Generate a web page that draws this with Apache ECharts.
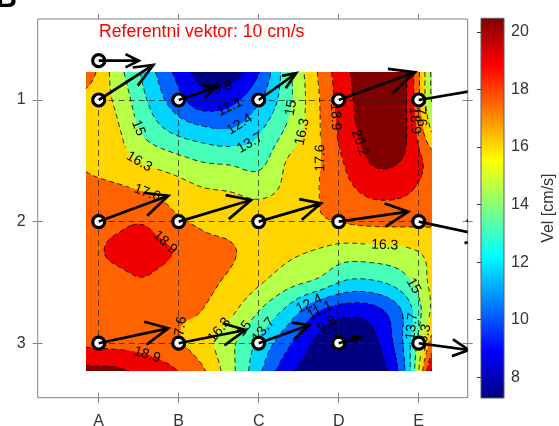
<!DOCTYPE html>
<html><head><meta charset="utf-8">
<script src="https://cdn.jsdelivr.net/npm/echarts@6/dist/echarts.min.js"></script>
<style>html,body{margin:0;padding:0;background:#fff}#c{width:559px;height:426px}</style>
</head><body><div id="c"></div>
<script>
// ---------- data ----------
const colLetters = ['A','B','C','D','E'];
const colPos = [1, 2, 3, 4, 5];
const rowPos = [1, 2, 3];
// velocity vectors (cm/s): east component, north (up on screen) component
const uEast = [
  [13.65, 9.4, 9.35, 19.1, 19.5],
  [17.4, 18.1, 15.6, 17.4, 17.5],
  [17.4, 16.7, 12.7, 5.3, 12.6]
];
const vNorth = [
  [5.76, 2.1, 4.4, 4.55, 2.15],
  [4.25, 3.55, 3.0, 1.63, -2.45],
  [2.45, 2.17, 3.0, 0.97, -1.12]
];
const refPoint = [1, 0.677];
const refSpeed = 10;
const refText = 'Referentni vektor: 10 cm/s';

// speed field (cm/s), nodes fieldX x fieldY
const fieldX = [0.84, 1.20, 1.56, 1.92, 2.28, 2.64, 3.00, 3.36, 3.72, 4.08, 4.44, 4.80, 5.16];
const fieldY = [0.77, 1.016, 1.262, 1.508, 1.754, 2.0, 2.246, 2.492, 2.738, 2.984, 3.23];
const speedField = [
  [18.6, 15.8, 13.4, 11.1, 9.3, 9.1, 11.0, 14.5, 17.5, 19.9, 21.0, 20.8, 14.8],
  [17.0, 16.2, 14.0, 12.0, 10.5, 10.8, 12.3, 14.6, 17.3, 19.7, 21.0, 20.7, 15.0],
  [16.9, 16.6, 14.8, 13.6, 12.9, 12.6, 13.6, 15.3, 17.3, 19.5, 20.9, 20.6, 16.3],
  [17.4, 16.9, 16.2, 15.6, 15.0, 14.8, 14.6, 16.4, 17.4, 19.0, 20.35, 20.1, 18.3],
  [18.0, 17.9, 17.6, 17.1, 16.5, 16.3, 16.0, 16.6, 17.5, 18.5, 19.2, 19.1, 18.2],
  [18.3, 18.6, 18.8, 17.9, 17.4, 17.2, 17.0, 17.1, 17.4, 17.7, 17.9, 17.9, 17.8],
  [18.5, 19.1, 19.4, 18.9, 18.0, 17.7, 17.2, 16.6, 16.2, 15.7, 15.8, 16.0, 16.6],
  [18.3, 18.5, 18.8, 18.2, 17.9, 17.4, 16.5, 15.5, 14.8, 13.6, 13.6, 14.5, 16.6],
  [18.3, 18.3, 18.2, 17.8, 17.6, 16.6, 15.0, 13.3, 11.2, 10.3, 10.6, 12.5, 16.5],
  [18.6, 18.5, 18.4, 17.9, 16.9, 15.4, 13.5, 11.5, 9.6, 8.6, 9.5, 12.4, 18.0],
  [20.6, 20.5, 19.8, 19.1, 17.9, 15.5, 12.7, 10.2, 9.0, 8.4, 8.9, 11.9, 20.4]
];
const levels = [9.8, 11.1, 12.4, 13.7, 15, 16.3, 17.6, 18.9, 20.2];

// contour labels: level and approximate place
const labelLevel = [15, 16.3, 17.6, 9.8, 11.1, 12.4, 13.7, 15, 16.3, 17.6, 18.9, 20.2, 18.9, 17.6, 18.9, 16.3, 18.9, 16.3, 15, 13.7, 12.4, 11.1, 9.8, 15, 13.7, 16.3, 17.6];
const labelX = [1.479, 1.516, 1.616, 2.541, 2.641, 2.779, 2.916, 3.516, 3.541, 3.741, 4.004, 4.267, 5.016, 5.10, 1.79, 4.579, 1.554, 2.491, 2.766, 3.04, 3.616, 3.779, 3.904, 4.941, 4.954, 5.116, 1.994];
const labelY = [1.247, 1.502, 1.74, 0.901, 1.066, 1.222, 1.370, 1.082, 1.263, 1.477, 1.123, 1.37, 1.181, 1.10, 2.19, 2.209, 3.155, 2.875, 2.85, 2.875, 2.645, 2.76, 2.90, 2.538, 2.859, 2.957, 2.891];

// colorbar
const cbMin = 7.28, cbMax = 20.47;
const cbTicks = [8, 10, 12, 14, 16, 18, 20];
const cbName = 'Vel [cm/s]';

// axis ranges
const xMin = 0.2375, xMax = 5.6125, yMin = 0.334, yMax = 3.448;
const arrowScale = 0.05;

// ---------- helpers ----------
function clamp01(v){ return v < 0 ? 0 : v > 1 ? 1 : v; }
function jet(t){
  return [clamp01(1.5 - Math.abs(4*t - 3))*255, clamp01(1.5 - Math.abs(4*t - 2))*255, clamp01(1.5 - Math.abs(4*t - 1))*255].map(Math.round);
}
const bandColors = [];
for (let i = 0; i <= levels.length; i++) bandColors.push(jet(i / levels.length));

const NX = fieldX.length, NY = fieldY.length;
function nodeVal(i, j){
  if (j < 0) return 2*nodeVal(i, 0) - nodeVal(i, 1);
  if (j > NY-1) return 2*nodeVal(i, NY-1) - nodeVal(i, NY-2);
  if (i < 0) return 2*nodeVal(0, j) - nodeVal(1, j);
  if (i > NX-1) return 2*nodeVal(NX-1, j) - nodeVal(NX-2, j);
  return speedField[j][i];
}
function cr(p0, p1, p2, p3, t){
  return p1 + 0.5*t*(p2 - p0 + t*(2*p0 - 5*p1 + 4*p2 - p3 + t*(3*(p1 - p2) + p3 - p0)));
}
function sampleField(gx, gy){
  let i = Math.floor(gx), j = Math.floor(gy);
  if (i > NX-2) i = NX-2; if (i < 0) i = 0;
  if (j > NY-2) j = NY-2; if (j < 0) j = 0;
  const tx = gx - i, ty = gy - j;
  const rv = r => cr(nodeVal(i-1, r), nodeVal(i, r), nodeVal(i+1, r), nodeVal(i+2, r), tx);
  return cr(rv(j-1), rv(j), rv(j+1), rv(j+2), ty);
}
// fine grid for contour lines
const S = 8;
const FW = (NX-1)*S + 1, FH = (NY-1)*S + 1;
const fine = new Float64Array(FW*FH);
for (let j = 0; j < FH; j++) for (let i = 0; i < FW; i++) fine[j*FW + i] = sampleField(i/S, j/S);
function fineToData(gi, gj){
  const fx = gi / S, fy = gj / S;
  const ix = Math.min(Math.floor(fx), NX-2), iy = Math.min(Math.floor(fy), NY-2);
  return [fieldX[ix] + (fx - ix)*(fieldX[ix+1] - fieldX[ix]), fieldY[iy] + (fy - iy)*(fieldY[iy+1] - fieldY[iy])];
}
function contourLevel(L){
  const F = (i, j) => fine[j*FW + i];
  const VOFF = FW*FH;
  const pts = new Map();
  function ep(key){
    if (pts.has(key)) return pts.get(key);
    let p;
    if (key < VOFF){ const j = Math.floor(key / FW), i = key % FW; const a = F(i, j), b = F(i+1, j); p = fineToData(i + (L - a)/(b - a), j); }
    else { const k = key - VOFF; const j = Math.floor(k / FW), i = k % FW; const a = F(i, j), b = F(i, j+1); p = fineToData(i, j + (L - a)/(b - a)); }
    pts.set(key, p); return p;
  }
  const segs = [];
  for (let j = 0; j < FH-1; j++) for (let i = 0; i < FW-1; i++){
    const a = F(i, j), b = F(i+1, j), c = F(i+1, j+1), d = F(i, j+1);
    const code = (a >= L ? 8 : 0) | (b >= L ? 4 : 0) | (c >= L ? 2 : 0) | (d >= L ? 1 : 0);
    if (code === 0 || code === 15) continue;
    const T = j*FW + i, B = (j+1)*FW + i, Lf = VOFF + j*FW + i, R = VOFF + j*FW + i + 1;
    const center = (a + b + c + d)/4 >= L;
    let pairs;
    switch (code){
      case 1: pairs = [[Lf, B]]; break;
      case 2: pairs = [[B, R]]; break;
      case 3: pairs = [[Lf, R]]; break;
      case 4: pairs = [[T, R]]; break;
      case 5: pairs = center ? [[T, Lf], [B, R]] : [[T, R], [Lf, B]]; break;
      case 6: pairs = [[T, B]]; break;
      case 7: pairs = [[T, Lf]]; break;
      case 8: pairs = [[T, Lf]]; break;
      case 9: pairs = [[T, B]]; break;
      case 10: pairs = center ? [[T, R], [Lf, B]] : [[T, Lf], [B, R]]; break;
      case 11: pairs = [[T, R]]; break;
      case 12: pairs = [[Lf, R]]; break;
      case 13: pairs = [[B, R]]; break;
      case 14: pairs = [[Lf, B]]; break;
    }
    pairs.forEach(p => segs.push(p));
  }
  const map = new Map();
  segs.forEach((s, idx) => s.forEach(k => { if (!map.has(k)) map.set(k, []); map.get(k).push(idx); }));
  const used = new Uint8Array(segs.length);
  const lines = [];
  for (let s0 = 0; s0 < segs.length; s0++){
    if (used[s0]) continue;
    used[s0] = 1;
    const keys = [segs[s0][0], segs[s0][1]];
    let key = segs[s0][1];
    while (true){
      const cand = (map.get(key) || []).find(x => !used[x]);
      if (cand === undefined) break;
      used[cand] = 1;
      const s = segs[cand];
      key = s[0] === key ? s[1] : s[0];
      keys.push(key);
    }
    key = segs[s0][0];
    while (true){
      const cand = (map.get(key) || []).find(x => !used[x]);
      if (cand === undefined) break;
      used[cand] = 1;
      const s = segs[cand];
      key = s[0] === key ? s[1] : s[0];
      keys.unshift(key);
    }
    lines.push(keys.map(ep));
  }
  return lines;
}
const levelLines = levels.map(contourLevel);

const FONT = '"Liberation Sans", Arial, Helvetica, sans-serif';

function renderContour(params, api){
  const p0 = api.coord([fieldX[0], fieldY[0]]);
  const p1 = api.coord([fieldX[NX-1], fieldY[NY-1]]);
  const x0 = Math.min(p0[0], p1[0]), y0 = Math.min(p0[1], p1[1]);
  const w = Math.round(Math.abs(p1[0] - p0[0])), h = Math.round(Math.abs(p1[1] - p0[1]));
  const flipX = p1[0] < p0[0], flipY = p1[1] < p0[1];
  const canvas = document.createElement('canvas');
  canvas.width = w; canvas.height = h;
  const ctx = canvas.getContext('2d');
  const img = ctx.createImageData(w, h);
  for (let py = 0; py < h; py++){
    let gy = (py + 0.5)/h*(NY-1); if (flipY) gy = (NY-1) - gy;
    for (let px = 0; px < w; px++){
      let gx = (px + 0.5)/w*(NX-1); if (flipX) gx = (NX-1) - gx;
      const v = sampleField(gx, gy);
      let k = 0; while (k < levels.length && v >= levels[k]) k++;
      const c = bandColors[k], o = (py*w + px)*4;
      img.data[o] = c[0]; img.data[o+1] = c[1]; img.data[o+2] = c[2]; img.data[o+3] = 255;
    }
  }
  ctx.putImageData(img, 0, 0);
  const children = [{type: 'image', style: {image: canvas, x: x0, y: y0, width: w, height: h}}];
  const texts = [];
  levels.forEach((L, li) => {
    const linesPx = levelLines[li].map(pl => pl.map(p => api.coord(p)));
    const labs = [];
    labelLevel.forEach((ll, k) => {
      if (ll !== L) return;
      const t = api.coord([labelX[k], labelY[k]]);
      let best = null, bd = Infinity;
      linesPx.forEach((pl, pi) => pl.forEach((p, vi) => {
        const d = (p[0]-t[0])*(p[0]-t[0]) + (p[1]-t[1])*(p[1]-t[1]);
        if (d < bd){ bd = d; best = [pi, vi]; }
      }));
      if (!best) return;
      const pl = linesPx[best[0]], vi = best[1];
      const a = pl[Math.max(0, vi-2)], b = pl[Math.min(pl.length-1, vi+2)];
      let ang = Math.atan2(-(b[1]-a[1]), b[0]-a[0]);
      if (ang > Math.PI/2) ang -= Math.PI;
      if (ang < -Math.PI/2) ang += Math.PI;
      const text = String(L);
      labs.push({x: pl[vi][0], y: pl[vi][1], r: text.length*3.9 + 3, ang, text});
    });
    linesPx.forEach(pl => {
      let cur = [];
      const flush = () => {
        if (cur.length > 1) children.push({type: 'polyline', shape: {points: cur}, style: {stroke: '#000', lineWidth: 0.8, lineDash: [5, 3.5], fill: 'none'}});
        cur = [];
      };
      pl.forEach(p => {
        const gap = labs.some(l => (p[0]-l.x)*(p[0]-l.x) + (p[1]-l.y)*(p[1]-l.y) < l.r*l.r);
        if (gap) flush(); else cur.push(p);
      });
      flush();
    });
    labs.forEach(l => texts.push({type: 'text', x: l.x, y: l.y, rotation: l.ang,
      style: {text: l.text, fill: '#000', font: '14px ' + FONT, align: 'center', verticalAlign: 'middle'}}));
  });
  return {type: 'group', children: children.concat(texts)};
}

function renderArrow(params, api){
  const cs = params.coordSys;
  const x = api.value(0), y = api.value(1);
  const u = api.value(2)*arrowScale, v = api.value(3)*arrowScale;
  const yu = -y;
  const tx = x + u, ty = yu + v;
  const al = 0.33, be = 0.33;
  const b1 = [tx - al*(u + be*v), ty - al*(v - be*u)];
  const b2 = [tx - al*(u - be*v), ty - al*(v + be*u)];
  const P = q => api.coord([q[0], -q[1]]);
  const st = {stroke: '#000', lineWidth: 2.7, fill: 'none'};
  return {type: 'group',
    clipPath: {type: 'rect', shape: {x: cs.x, y: cs.y, width: cs.width, height: cs.height}},
    children: [
      {type: 'polyline', shape: {points: [api.coord([x, y]), P([tx, ty])]}, style: st},
      {type: 'polyline', shape: {points: [P(b1), P([tx, ty]), P(b2)]}, style: st}
    ]};
}

function renderColorbar(params, api){
  const a = api.coord([0, cbMin]), b = api.coord([1, cbMax]);
  return {type: 'rect', shape: {x: a[0], y: b[1], width: b[0]-a[0], height: a[1]-b[1]},
    style: {fill: new echarts.graphic.LinearGradient(0, 1, 0, 0, [
      {offset: 0, color: 'rgb(0,0,128)'}, {offset: 0.125, color: 'rgb(0,0,255)'},
      {offset: 0.375, color: 'rgb(0,255,255)'}, {offset: 0.625, color: 'rgb(255,255,0)'},
      {offset: 0.875, color: 'rgb(255,0,0)'}, {offset: 1, color: 'rgb(128,0,0)'}]),
      stroke: '#5a5a5a', lineWidth: 1}};
}

// ---------- build series data ----------
const arrowData = [], pointData = [], gridLines = [];
rowPos.forEach((r, j) => colPos.forEach((c, i) => {
  arrowData.push([c, r, uEast[j][i], vNorth[j][i]]);
  pointData.push([c, r]);
}));
arrowData.push([refPoint[0], refPoint[1], refSpeed, 0]);
pointData.push(refPoint.slice());
rowPos.forEach(r => gridLines.push({coords: [[colPos[0], r], [colPos[colPos.length-1], r]]}));
colPos.forEach(c => gridLines.push({coords: [[c, rowPos[0]], [c, rowPos[rowPos.length-1]]]}));

const axisGray = '#808080';
const labelColor = '#333';
function xAx(pos, inside, labels){
  return {gridIndex: 0, type: 'value', min: xMin, max: xMax, position: pos,
    axisLine: {show: false}, splitLine: {show: false},
    axisTick: {show: true, inside, length: 5, customValues: colPos, lineStyle: {color: axisGray}},
    axisLabel: labels ? {show: true, customValues: colPos, formatter: v => colLetters[Math.round(v) - 1],
      color: labelColor, fontSize: 16, margin: 16, fontFamily: FONT} : {show: false}};
}
function yAx(pos, inside, labels){
  return {gridIndex: 0, type: 'value', min: yMin, max: yMax, inverse: true, position: pos,
    axisLine: {show: false}, splitLine: {show: false},
    axisTick: {show: true, inside, length: 5, customValues: rowPos, lineStyle: {color: axisGray}},
    axisLabel: labels ? {show: true, customValues: rowPos, color: labelColor, fontSize: 16, margin: 12, fontFamily: FONT} : {show: false}};
}

const option = {
  animation: false,
  textStyle: {fontFamily: FONT},
  grid: [
    {left: 37.7, top: 19, width: 430, height: 378.7, show: true, borderColor: axisGray, borderWidth: 1, backgroundColor: '#fff', containLabel: false, outerBoundsMode: 'none'},
    {left: 481, top: 18.3, width: 23, height: 379.7, show: false, containLabel: false, outerBoundsMode: 'none'}
  ],
  xAxis: [
    xAx('bottom', false, true), xAx('bottom', true, false), xAx('top', false, false),
    {gridIndex: 1, type: 'value', min: 0, max: 1, show: false}
  ],
  yAxis: [
    yAx('left', false, true), yAx('left', true, false), yAx('right', false, false), yAx('right', true, false),
    {gridIndex: 1, type: 'value', min: cbMin, max: cbMax, position: 'right',
      axisLine: {show: false}, splitLine: {show: false},
      axisTick: {show: true, inside: true, length: 4, customValues: cbTicks, lineStyle: {color: '#333'}},
      axisLabel: {show: true, customValues: cbTicks, color: labelColor, fontSize: 16, margin: 7, fontFamily: FONT},
      name: cbName, nameLocation: 'middle', nameRotate: 90, nameGap: 37,
      nameTextStyle: {color: labelColor, fontSize: 16, fontFamily: FONT}}
  ],
  graphic: [
    {type: 'text', left: 99, top: 23, style: {text: refText, fill: '#ff0000', font: '17.6px ' + FONT}},
    {type: 'text', left: -4, top: -16, style: {text: 'B', fill: '#000', font: 'bold 29px ' + FONT}}
  ],
  series: [
    {type: 'custom', coordinateSystem: 'cartesian2d', xAxisIndex: 0, yAxisIndex: 0, z: 1, silent: true,
      data: [[fieldX[0], fieldY[0]]], renderItem: renderContour},
    {type: 'lines', coordinateSystem: 'cartesian2d', xAxisIndex: 0, yAxisIndex: 0, z: 2, silent: true,
      data: gridLines, lineStyle: {color: '#222', width: 1, type: [6, 4], opacity: 0.75}},
    {type: 'scatter', xAxisIndex: 0, yAxisIndex: 0, z: 3, silent: true, data: pointData,
      symbol: 'circle', symbolSize: 12, itemStyle: {color: '#fff', borderColor: '#000', borderWidth: 3.2, opacity: 1}},
    {type: 'custom', coordinateSystem: 'cartesian2d', xAxisIndex: 0, yAxisIndex: 0, z: 4, silent: true,
      data: arrowData, renderItem: renderArrow},
    {type: 'custom', coordinateSystem: 'cartesian2d', xAxisIndex: 3, yAxisIndex: 4, z: 1, silent: true,
      data: [[0, cbMin]], renderItem: renderColorbar}
  ]
};
const chart = echarts.init(document.getElementById('c'), null, {renderer: 'canvas'});
chart.setOption(option);
</script>
</body></html>
